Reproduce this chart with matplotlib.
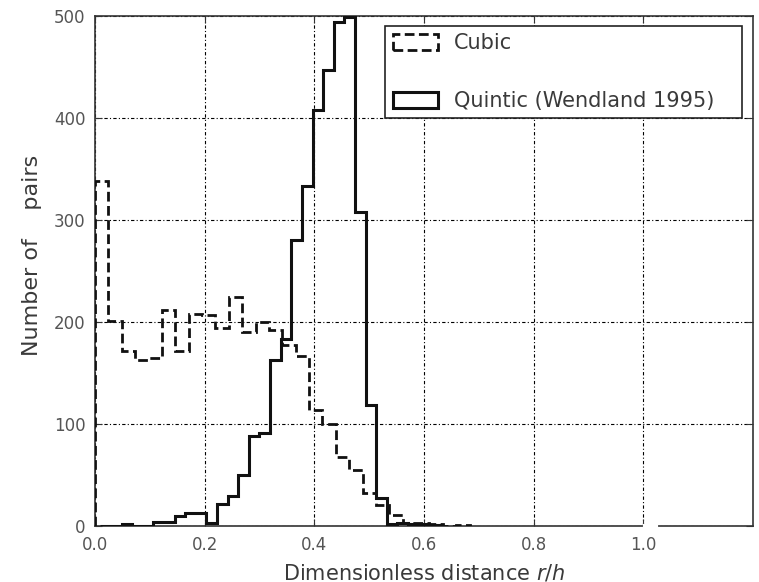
import numpy as np
import matplotlib
matplotlib.use('Agg')
import matplotlib.pyplot as plt
import matplotlib.patches as mpatches

# Histogram counts
cubic_width = 0.0244
cubic_counts = [338, 201, 172, 163, 165, 212, 172, 208, 207, 194, 225, 190, 200, 192,
                177, 167, 114, 100, 68, 55, 32, 21, 11, 3, 3, 2, 0, 1]

quintic_start = 0.0097
quintic_width = 0.01935
quintic_counts = [0, 0, 2, 0, 0, 4, 4, 10, 13, 13, 3, 22, 29, 50, 88, 91, 163, 183,
                  280, 333, 408, 447, 494, 499, 308, 119, 27, 2, 3, 2, 2, 1]

x_ticks = [0.0, 0.2, 0.4, 0.6, 0.8, 1.0]
y_ticks = [0, 100, 200, 300, 400, 500]

cubic_edges = cubic_width * np.arange(len(cubic_counts) + 1)
quintic_edges = quintic_start + quintic_width * np.arange(len(quintic_counts) + 1)

plt.rcParams['font.family'] = 'DejaVu Sans'
txt = '#3a3a3a'

fig = plt.figure(figsize=(7.59, 5.82), dpi=100)
ax = fig.add_axes([0.1252, 0.0962, 0.8668, 0.8763])

cubic_ls = (0, (3.5, 1.6))
ax.stairs(cubic_counts, cubic_edges, color='#111111', linewidth=2.0, linestyle=cubic_ls, zorder=3)
ax.stairs(quintic_counts, quintic_edges, color='#111111', linewidth=2.2, zorder=4)

ax.set_xlim(0, 1.2)
ax.set_ylim(0, 500)
ax.set_xticks(x_ticks)
ax.set_yticks(y_ticks)
ax.set_xticklabels(['%.1f' % v for v in x_ticks])
ax.grid(True, color='black', linewidth=0.8, linestyle=(0, (3, 2, 1, 2)))
ax.tick_params(direction='in', length=5, top=True, right=True, labelsize=12,
               labelcolor='#555555', color='#333333', pad=7)
for s in ax.spines.values():
    s.set_color('#333333')
    s.set_linewidth(1.2)

# gap in the bottom frame just right of 1.0
ax.plot([1.004, 1.024], [0, 0], color='white', linewidth=3, clip_on=False, zorder=6)

ax.set_xlabel('Dimensionless distance $r/h$', fontsize=15, color=txt, labelpad=6)
ax.set_ylabel('Number of    pairs', fontsize=16, color=txt)
ax.yaxis.set_label_coords(-0.081, 0.53)

h1 = mpatches.Patch(facecolor='white', edgecolor='#111111', linewidth=2, linestyle=cubic_ls, label='Cubic')
h2 = mpatches.Patch(facecolor='white', edgecolor='#111111', linewidth=2.2, label='Quintic (Wendland 1995)   ')
leg = ax.legend(handles=[h1, h2], loc='upper right', bbox_to_anchor=(0.983, 0.98),
                fontsize=15, labelspacing=1.8, handlelength=2.15, handleheight=0.8,
                fancybox=False, framealpha=1, edgecolor='#222222', borderpad=0.35,
                handletextpad=0.8, borderaxespad=0)
leg.get_frame().set_linewidth(1.2)
for t in leg.get_texts():
    t.set_color(txt)

fig.savefig('out.png', dpi=100)
